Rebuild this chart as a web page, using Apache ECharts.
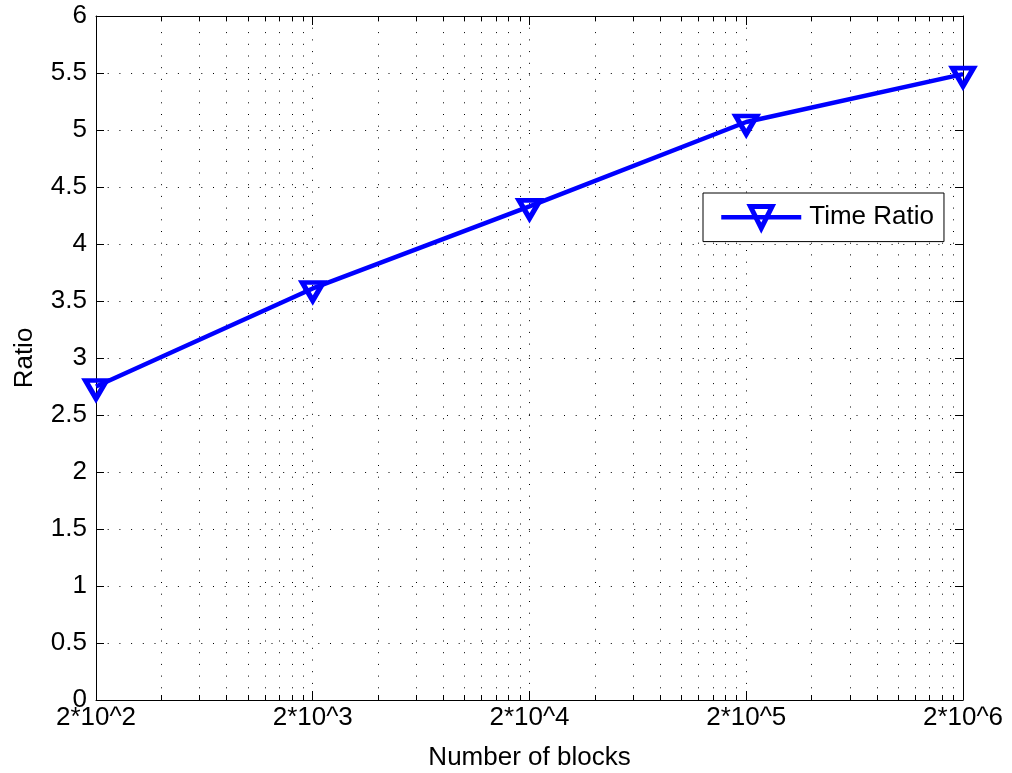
<!DOCTYPE html>
<html>
<head>
<meta charset="utf-8">
<script src="https://cdn.jsdelivr.net/npm/echarts@6/dist/echarts.min.js"></script>
<style>
  html, body { margin: 0; padding: 0; background: #fff; }
  #chart { width: 1012px; height: 773px; }
</style>
</head>
<body>
<div id="chart"></div>
<script>
// ---- data ----
const blockPositions = [1e2, 1e3, 1e4, 1e5, 1e6];
const xTickLabels = ['2*10^2', '2*10^3', '2*10^4', '2*10^5', '2*10^6'];
const timeRatio = [2.75, 3.61, 4.33, 5.07, 5.49];
const seriesName = 'Time Ratio';
const xName = 'Number of blocks';
const yName = 'Ratio';

// minor (log) grid positions: k*10^n, k = 2..9
const minorTicks = [];
for (let n = 2; n < 6; n++) {
  for (let k = 2; k <= 9; k++) minorTicks.push(k * Math.pow(10, n));
}

const FONT = 'Liberation Sans, Arial, Helvetica, sans-serif';
const FS = 26;
const X_MIN = 1e2, X_MAX = 1e6, Y_MIN = 0, Y_MAX = 6;
const DOT = [1, 10.7];
const BLUE = '#0000ff';
const LW = 4.5;

const chart = echarts.init(document.getElementById('chart'), null, { renderer: 'canvas' });

function labelFor(v) {
  const e = Math.round(Math.log10(v));
  const idx = blockPositions.findIndex(p => Math.round(Math.log10(p)) === e);
  return idx >= 0 ? xTickLabels[idx] : '';
}

const axisCommonX = {
  type: 'log',
  logBase: 10,
  min: X_MIN,
  max: X_MAX,
  axisLine: { show: true, onZero: false, lineStyle: { color: '#000', width: 1 } },
  axisTick: { show: true, inside: true, length: 9, lineStyle: { color: '#000', width: 1 } },
  minorTick: { show: false },
  minorSplitLine: { show: false }
};

const option = {
  backgroundColor: '#fff',
  animation: false,
  textStyle: { fontFamily: FONT },
  grid: { left: 96, right: 49, top: 16, bottom: 73, containLabel: false, outerBoundsMode: 'none' },
  legend: {
    data: [seriesName],
    left: 703,
    top: 193,
    orient: 'vertical',
    itemWidth: 80,
    itemHeight: 27,
    padding: [11, 10, 11, 16],
    backgroundColor: '#fff',
    borderColor: '#000',
    borderWidth: 1,
    borderRadius: 0,
    lineStyle: { color: BLUE, width: LW },
    itemStyle: { color: 'rgba(0,0,0,0)', borderColor: BLUE, borderWidth: 5 },
    textStyle: { fontFamily: FONT, fontSize: FS, color: '#000', padding: [0, 0, 0, 3] },
    selectedMode: false
  },
  xAxis: [
    Object.assign({}, axisCommonX, {
      position: 'bottom',
      name: xName,
      nameLocation: 'middle',
      nameGap: 45,
      nameTextStyle: { fontFamily: FONT, fontSize: FS, color: '#000' },
      axisLabel: {
        show: true, color: '#000', fontFamily: FONT, fontSize: FS, margin: 5,
        formatter: labelFor,
        showMinLabel: true, showMaxLabel: true
      },
      splitLine: { show: true, lineStyle: { color: '#000', width: 1, type: DOT } }
    }),
    Object.assign({}, axisCommonX, {
      position: 'top',
      axisLabel: { show: false },
      splitLine: { show: false }
    })
  ],
  yAxis: [
    {
      type: 'value',
      min: Y_MIN, max: Y_MAX, interval: 0.5,
      position: 'left',
      name: yName,
      nameLocation: 'middle',
      nameGap: 58,
      nameRotate: 90,
      nameTextStyle: { fontFamily: FONT, fontSize: FS, color: '#000' },
      axisLine: { show: true, onZero: false, lineStyle: { color: '#000', width: 1 } },
      axisTick: { show: true, inside: true, length: 8, lineStyle: { color: '#000', width: 1 } },
      axisLabel: { color: '#000', fontFamily: FONT, fontSize: FS, margin: 9 },
      splitLine: { show: true, lineStyle: { color: '#000', width: 1, type: DOT } }
    },
    {
      type: 'value',
      min: Y_MIN, max: Y_MAX, interval: 0.5,
      position: 'right',
      axisLine: { show: true, onZero: false, lineStyle: { color: '#000', width: 1 } },
      axisTick: { show: true, inside: true, length: 8, lineStyle: { color: '#000', width: 1 } },
      axisLabel: { show: false },
      splitLine: { show: false }
    }
  ],
  series: [
    {
      type: 'custom',
      xAxisIndex: 0,
      yAxisIndex: 0,
      silent: true,
      z: 1,
      data: minorTicks.map(v => [v]),
      encode: { x: 0 },
      renderItem: function (params, api) {
        const v = api.value(0);
        const bot = api.coord([v, Y_MIN]);
        const top = api.coord([v, Y_MAX]);
        const x = Math.round(bot[0]) + 0.5;
        const yb = Math.round(bot[1]);
        const yt = Math.round(top[1]);
        return {
          type: 'group',
          children: [
            { type: 'line', shape: { x1: x, y1: yb, x2: x, y2: yt },
              style: { stroke: '#000', lineWidth: 1, lineDash: DOT } },
            { type: 'line', shape: { x1: x, y1: yb, x2: x, y2: yb - 5 },
              style: { stroke: '#000', lineWidth: 1 } },
            { type: 'line', shape: { x1: x, y1: yt, x2: x, y2: yt + 5 },
              style: { stroke: '#000', lineWidth: 1 } }
          ]
        };
      }
    },
    {
      name: seriesName,
      type: 'line',
      xAxisIndex: 0,
      yAxisIndex: 0,
      z: 5,
      data: blockPositions.map((x, i) => [x, timeRatio[i]]),
      symbol: 'path://M0,0 L2,0 L1,1.732 Z',
      symbolSize: [21, 18],
      symbolOffset: [0, '16.7%'],
      symbolKeepAspect: false,
      showSymbol: true,
      clip: false,
      lineStyle: { color: BLUE, width: LW },
      itemStyle: { color: 'rgba(0,0,0,0)', borderColor: BLUE, borderWidth: 5 },
      emphasis: { disabled: true }
    }
  ]
};

chart.setOption(option);
</script>
</body>
</html>
